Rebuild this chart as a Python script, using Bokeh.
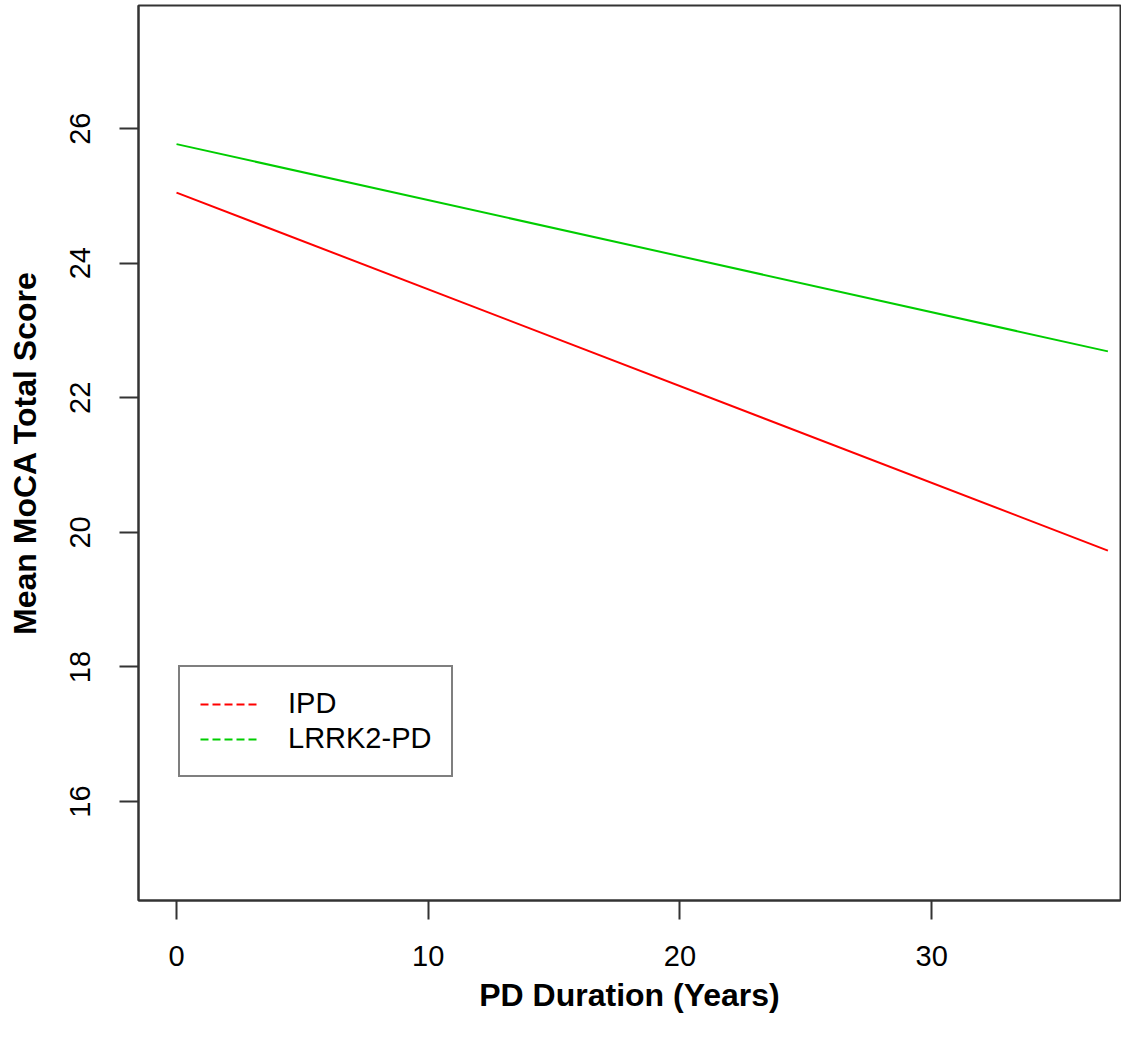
from bokeh.plotting import figure
from bokeh.models import Range1d, FixedTicker, Legend, LegendItem
from bokeh.embed import file_html
from bokeh.resources import INLINE

# Data
years = [0, 37]
ipd = [25.05, 19.73]
lrrk2 = [25.77, 22.69]
x_ticks = [0, 10, 20, 30]
y_ticks = [16, 18, 20, 22, 24, 26]
series_labels = ["IPD", "LRRK2-PD"]

RED = "#FF0000"
GREEN = "#00CD00"
AXC = "#333333"
FONT = "Liberation Sans"
NAN = float("nan")

p = figure(
    width=1121, height=1024,
    output_backend="svg", toolbar_location=None,
    x_range=Range1d(-1.51, 37.5), y_range=Range1d(14.53, 27.83),
    min_border_left=138, min_border_right=1, min_border_top=5, min_border_bottom=124,
    background_fill_color="white", border_fill_color="white",
)
p.grid.visible = False
p.outline_line_color = AXC
p.outline_line_width = 2

for ax in (p.xaxis, p.yaxis):
    ax.axis_line_color = AXC
    ax.axis_line_width = 2
    ax.major_tick_line_color = AXC
    ax.major_tick_line_width = 2
    ax.major_tick_out = 19
    ax.major_tick_in = 0
    ax.minor_tick_line_color = None
    ax.major_label_text_font = FONT
    ax.major_label_text_font_size = "29px"
    ax.major_label_text_color = "black"
    ax.axis_label_text_font = FONT
    ax.axis_label_text_font_size = "32px"
    ax.axis_label_text_font_style = "bold"
    ax.axis_label_text_color = "black"

p.xaxis.ticker = FixedTicker(ticks=x_ticks)
p.yaxis.ticker = FixedTicker(ticks=y_ticks)
p.xaxis.major_label_standoff = 26
p.yaxis.major_label_standoff = 29
p.yaxis.major_label_orientation = "vertical"
p.xaxis.axis_label = "PD Duration (Years)"
p.yaxis.axis_label = "Mean MoCA Total Score"
p.xaxis.axis_label_standoff = 8
p.yaxis.axis_label_standoff = 25

p.line(years, ipd, line_color=RED, line_width=2)
p.line(years, lrrk2, line_color=GREEN, line_width=2)

# dashed keys for the legend (a single NaN point, nothing is drawn in the plot)
k1 = p.line(x=[NAN], y=[NAN], line_color=RED, line_width=2, line_dash="8 4")
k2 = p.line(x=[NAN], y=[NAN], line_color=GREEN, line_width=2, line_dash="8 4")

legend = Legend(
    items=[LegendItem(label=series_labels[0], renderers=[k1]),
           LegendItem(label=series_labels[1], renderers=[k2])],
    location=(40, 123),
    padding=20, margin=0, spacing=2,
    glyph_width=58, glyph_height=30, label_height=30, label_width=140,
    label_standoff=30,
    label_text_font=FONT, label_text_font_size="29px", label_text_color="black",
    border_line_color="black", border_line_width=2,
    background_fill_color="white", background_fill_alpha=1,
)
p.add_layout(legend, "center")

open("out.html", "w").write(file_html(p, INLINE))
